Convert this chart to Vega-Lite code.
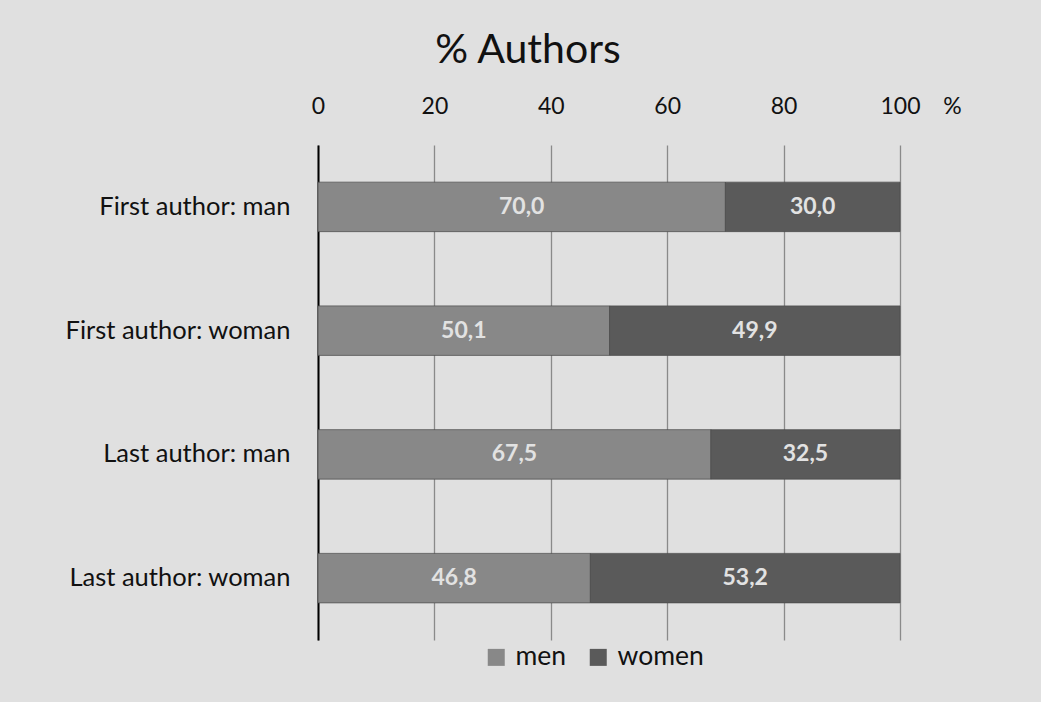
{
  "$schema": "https://vega.github.io/schema/vega-lite/v6.json",
  "autosize": {"type": "none"},
  "width": 582,
  "height": 495,
  "padding": {"left": 318, "top": 145, "right": 141, "bottom": 62},
  "background": "#e0e0e0",
  "title": {
    "text": "% Authors",
    "font": "Lato",
    "fontSize": 41,
    "fontWeight": "normal",
    "color": "#111111",
    "anchor": "middle",
    "baseline": "alphabetic",
    "dx": -81,
    "dy": 38,
    "offset": 29
  },
  "data": {
    "values": [
      {"category": "First author: man", "gender": "men", "value": 70.0},
      {"category": "First author: man", "gender": "women", "value": 30.0},
      {"category": "First author: woman", "gender": "men", "value": 50.1},
      {"category": "First author: woman", "gender": "women", "value": 49.9},
      {"category": "Last author: man", "gender": "men", "value": 67.5},
      {"category": "Last author: man", "gender": "women", "value": 32.5},
      {"category": "Last author: woman", "gender": "men", "value": 46.8},
      {"category": "Last author: woman", "gender": "women", "value": 53.2}
    ]
  },
  "transform": [
    {"stack": "value", "groupby": ["category"], "sort": [{"field": "gender", "order": "ascending"}], "as": ["v0", "v1"]},
    {"calculate": "(datum.v0 + datum.v1) / 2", "as": "mid"}
  ],
  "encoding": {
    "y": {
      "field": "category",
      "type": "nominal",
      "sort": ["First author: man", "First author: woman", "Last author: man", "Last author: woman"],
      "scale": {"paddingInner": 0.6, "paddingOuter": 0.3},
      "axis": {
        "title": null,
        "domain": true,
        "domainColor": "#000000",
        "domainWidth": 2,
        "ticks": false,
        "labelFont": "Lato",
        "labelFontSize": 25.5,
        "labelColor": "#111111",
        "labelPadding": 28,
        "labelLimit": 400
      }
    }
  },
  "layer": [
    {
      "mark": {"type": "bar", "stroke": "#4a4a4a", "strokeWidth": 1, "strokeOpacity": 0.7},
      "encoding": {
        "x": {
          "field": "v0",
          "type": "quantitative",
          "scale": {"domain": [0, 100], "nice": false},
          "axis": {
            "orient": "top",
            "values": [0, 20, 40, 60, 80, 100],
            "domain": false,
            "ticks": false,
            "grid": true,
            "gridColor": "#8a8a8a",
            "gridWidth": 1.3,
            "labelFlush": false,
            "labelFont": "Lato",
            "labelFontSize": 23,
            "labelColor": "#111111",
            "labelPadding": 27,
            "title": "%",
            "titleFont": "Lato",
            "titleFontSize": 23,
            "titleFontWeight": "normal",
            "titleColor": "#111111",
            "titleAngle": 0,
            "titleX": 634,
            "titleY": -32,
            "titleBaseline": "alphabetic",
            "titleAlign": "center"
          }
        },
        "x2": {"field": "v1"},
        "color": {
          "field": "gender",
          "type": "nominal",
          "scale": {"domain": ["men", "women"], "range": ["#888888", "#5a5a5a"]},
          "legend": {
            "title": null,
            "orient": "none",
            "direction": "horizontal",
            "legendX": 165,
            "legendY": 499,
            "symbolType": "square",
            "symbolSize": 289,
            "symbolStrokeWidth": 0,
            "labelFont": "Lato",
            "labelFontSize": 26.5,
            "labelColor": "#111111",
            "labelOffset": 6,
            "columnPadding": 18
          }
        }
      }
    },
    {
      "mark": {"type": "text", "font": "Lato", "fontWeight": "bold", "fontSize": 23, "color": "#e2e2e2", "baseline": "middle"},
      "encoding": {
        "x": {"field": "mid", "type": "quantitative"},
        "text": {"field": "value", "type": "quantitative", "format": ".1f"}
      }
    }
  ],
  "config": {
    "locale": {"number": {"decimal": ",", "thousands": ".", "grouping": [3], "currency": ["", " €"]}},
    "view": {"stroke": null}
  }
}
